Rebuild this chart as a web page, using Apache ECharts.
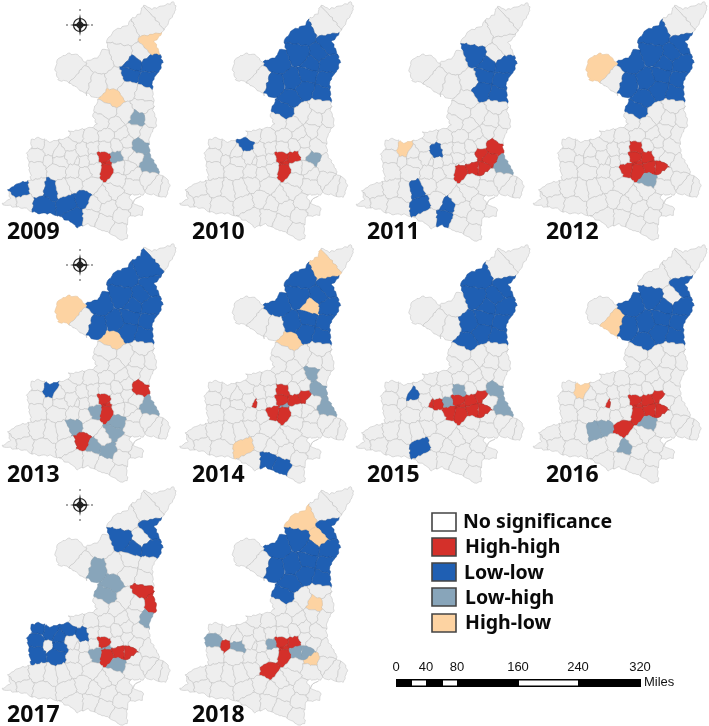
<!DOCTYPE html>
<html><head><meta charset="utf-8">
<script src="https://cdn.jsdelivr.net/npm/echarts@6/dist/echarts.min.js"></script>
<style>html,body{margin:0;padding:0;background:#fff}#c{width:709px;height:726px}</style>
</head><body><div id="c"></div>
<script>
// ---------- values: cluster membership per year ----------
const years = ['2009','2010','2011','2012','2013','2014','2015','2016','2017','2018'];
const legendLabels = ['No significance','High-high','Low-low','Low-high','High-low'];
const scaleLabels = ['0','40','80','160','240','320'];
const highHigh = {
 2009:['X0','X1','X2'], 2010:['X0','X1','X2','X3'], 2011:['X2','X4','X6','Tt','U','P'],
 2012:['Y1','X0','X1','X2','X3','X4','X5','X6'], 2013:['P','X0','X1','X2','Sr'],
 2014:['Y1','X1','X3','Tt','X2','X5','Xt'], 2015:['Xt','Xv','X0','X1','X2','X3','X4','X5','X6','Tt'],
 2016:['Xt','X0','X1','X2','X3','X4','X6','Tt','Rz'], 2017:['F','G','X1','X2','X4','X6'],
 2018:['X0','X1','X2','X3','Rz','a6']};
const lowLow = {
 2009:['N1','N2','N3','N4','Sa','d1','d2','d4','Sr','d6'],
 2010:['T3','A','A2','B','C','W3','N1','N2','N3','N4','M1','M2','M3','D','E','a3'],
 2011:['B','N1','N2','N3','N4','M2','M3','Sf','d4','Sg','e2','a4'],
 2012:['T3','A','A2','B','C','W3','N1','N2','N3','N4','M1','M2','M3','D','E'],
 2013:['T2','T3','A','A2','B','C','W3','N1','N2','N3','N4','M1','M2','M3','a2'],
 2014:['T3','A','A2','B','C','N2','N3','N4','M1','M2','M3','e2','e3'],
 2015:['T3','A','A2','B','N1','N2','N3','N4','M1','M2','M3','D','a7','d4'],
 2016:['A','B','C','W3','N1','N2','N3','N4','M1','M2','M3','D'],
 2017:['A','B','N1','N2','a1','a2','a3','a5','a7','a8','b1','b2','a4'],
 2018:['A','B','C','W3','N1','N2','N3','N4','M1','M2','M3','D','E']};
const lowHigh = {
 2009:['X3','P','R','H'], 2010:['U'], 2011:['R'], 2012:['Lan'],
 2013:['X5','R','Lan','Sb','Sg','Sc','Sd'], 2014:['X0','Q','P','R'], 2015:['Xw','Y1','P','R'],
 2016:['Lan','Sf','Sb','Sg'], 2017:['W3','D','E','L','X0','X5','Lan'], 2018:['Xw','X4','X6','a5','a8']};
const highLow = {
 2009:['A','D'], 2010:[], 2011:['a2'], 2012:['W1'], 2013:['W1','D'], 2014:['T2','N1','D','d4'],
 2015:[], 2016:['a2','W2'], 2017:[], 2018:['T3','A2','H','Hq']};

// ---------- base map geometry (map units) ----------
const outline = [[430,15],[458,27],[495,15],[522,5],[528,30],[508,62],[497,85],[480,105],[463,125],[482,165],[489,188],[478,212],[458,240],[457,270],[461,300],[460,330],[470,365],[465,385],[449,408],[447,438],[452,470],[475,508],[478,523],[500,535],[510,560],[497,590],[470,592],[430,585],[395,583],[388,590],[402,610],[432,625],[425,645],[385,650],[380,680],[382,715],[360,722],[340,705],[300,688],[262,672],[232,682],[205,662],[185,652],[150,640],[110,640],[75,625],[40,620],[5,612],[30,595],[25,570],[55,550],[95,540],[88,510],[85,480],[80,460],[95,440],[92,420],[115,412],[150,425],[200,415],[215,402],[205,395],[240,390],[280,380],[290,370],[278,345],[285,320],[297,296],[280,290],[250,275],[225,260],[205,245],[175,240],[165,205],[175,175],[205,160],[235,165],[255,185],[295,170],[310,145],[325,150],[320,120],[345,90],[385,75],[390,60],[420,40]];
const sites = [
 ['T1',485,35],['T2',440,75],['T3',378,105],['A',450,135],['A2',424,160],['B',368,165],['C',304,190],
 ['W1',214,205],['W2',250,238],['W3',292,250],['N1',400,192],['N2',450,192],['N3',390,224],['N4',445,240],
 ['M1',345,238],['M2',385,268],['M3',430,282],['D',340,298],['E',325,332],['F',425,318],['G',455,355],
 ['H',412,355],['I',375,340],['J',345,375],['K',305,370],['Q',405,395],['L',435,403],['O',365,405],['O2',320,405],
 ['P',415,437],['R',445,497],['U',402,475],['Hq',405,525],
 ['X0',318,486,-300],['X1',312,468],['X2',320,512],['X3',352,472],['X4',358,500],['X5',285,505],['X6',388,500],
 ['Xw',278,478],['Xv',252,483],['Xt',236,482,-220],['Y1',316,445],['Tt',380,460],['Lan',350,540],['Rz',272,555],
 ['n1',230,405],['n2',270,410],['n4',352,437],['n5',275,445],['n6',378,425],
 ['a1',110,430],['a2',155,442],['a3',205,436],['a4',250,452],['a5',105,462],['a6',150,480,-500],['a7',178,455],['a8',182,486],['a9',212,470],
 ['b1',105,510],['b2',175,510],['b3',222,515],['b4',252,520],
 ['Sa',60,572],['b5',115,565],['c1',30,608],['c2',70,606],['d1',150,572],['d2',130,612],['d4',205,610],['Sf',190,565],['Sb',222,552],
 ['Sr',250,598],['d6',225,650],['Sg',282,612],['e2',272,650],['e3',312,668],['Sc',325,625],['Sd',340,572],['g1',310,590],
 ['i1',400,555],['i2',470,560],['i3',440,535],['i4',495,565],['j1',375,610],['j2',365,645],['f2',412,630],['k1',360,695]
];
// empty spots outside the land: they bound cells but are not drawn
const emptySpots = [[230,325],[460,610],[250,100]].map(p=>['_',p[0],p[1]]);
const warp = (x,y)=>[
 x + 1.8*Math.sin(0.31*y+0.17*x) + 1.0*Math.sin(0.73*y-0.41*x+1.3),
 y + 1.8*Math.sin(0.29*x-0.19*y+0.7) + 1.0*Math.sin(0.67*x+0.47*y+2.1)];

function clip(poly, a, b, c){ // keep a*x+b*y<=c
  const out=[];
  for(let i=0;i<poly.length;i++){
    const p=poly[i], q=poly[(i+1)%poly.length];
    const fp=a*p[0]+b*p[1]-c, fq=a*q[0]+b*q[1]-c;
    if(fp<=0) out.push(p);
    if((fp<0&&fq>0)||(fp>0&&fq<0)){
      const t=fp/(fp-fq);
      out.push([p[0]+t*(q[0]-p[0]),p[1]+t*(q[1]-p[1])]);
    }
  }
  return out;
}
function refine(poly){
  const out=[];
  for(let i=0;i<poly.length;i++){
    const p=poly[i], q=poly[(i+1)%poly.length];
    const n=Math.max(1,Math.round(Math.hypot(q[0]-p[0],q[1]-p[1])/5));
    for(let k=0;k<n;k++){
      out.push(warp(p[0]+(q[0]-p[0])*k/n,p[1]+(q[1]-p[1])*k/n));
    }
  }
  return out;
}
let minX=1e9,minY=1e9,maxX=-1e9,maxY=-1e9;
const allSites = sites.concat(emptySpots);
const features = sites.map(si=>{
  let poly=outline;
  const wi=si[3]||0;
  for(const sj of allSites){
    if(sj===si) continue;
    const wj=sj[3]||0;
    const a=2*(sj[1]-si[1]), b=2*(sj[2]-si[2]);
    const c=(sj[1]*sj[1]+sj[2]*sj[2]-wj)-(si[1]*si[1]+si[2]*si[2]-wi);
    poly=clip(poly,a,b,c);
    if(!poly.length) break;
  }
  const ring=refine(poly).map(p=>{
    minX=Math.min(minX,p[0]);maxX=Math.max(maxX,p[0]);
    minY=Math.min(minY,p[1]);maxY=Math.max(maxY,p[1]);
    return [p[0],-p[1]];
  });
  if(ring.length) ring.push(ring[0].slice());
  return {type:'Feature',properties:{name:si[0]},geometry:{type:'Polygon',coordinates:[ring]}};
}).filter(f=>f.geometry.coordinates[0].length>3);
years.forEach(y=>echarts.registerMap('region'+y,{type:'FeatureCollection',features:JSON.parse(JSON.stringify(features))}));

// ---------- styling and layout ----------
const fills = {0:'#eeeeee',1:'#d4302a',2:'#1f5fb3',3:'#88a5ba',4:'#fdd3a2'};
const lines = {0:'#bcbcbc',1:'#a52a24',2:'#1a4e94',3:'#7f98ab',4:'#e0bf97'};
const panelOrigin = {2009:[0,0],2010:[177.5,0],2011:[354,1],2012:[531,0],2013:[0,242],2014:[177.5,243],2015:[354,243],2016:[531,243],2017:[0,485],2018:[177.5,485]};
const labelPos = {2009:[7,232],2010:[192,232],2011:[367,232],2012:[546,232],2013:[7,475],2014:[192,475],2015:[367,475],2016:[546,475],2017:[7,715],2018:[192,715]};
const comps = [[80,25],[80,265],[80,505]];
const K=3;

function codeOf(y,n){
  if(highHigh[y].includes(n)) return 1;
  if(lowLow[y].includes(n)) return 2;
  if(lowHigh[y].includes(n)) return 3;
  if(highLow[y].includes(n)) return 4;
  return 0;
}
const series = years.map(y=>({
  type:'map',map:'region'+y,roam:false,silent:true,aspectScale:1,name:y,
  left:panelOrigin[y][0]+minX/K, top:panelOrigin[y][1]+minY/K,
  width:(maxX-minX)/K, height:(maxY-minY)/K,
  label:{show:false}, emphasis:{disabled:true}, select:{disabled:true},
  itemStyle:{areaColor:fills[0],borderColor:lines[0],borderWidth:0.5},
  data:sites.map(s=>{const c=codeOf(y,s[0]);return {name:s[0],value:c,itemStyle:{areaColor:fills[c],borderColor:lines[c],borderWidth:0.5}};})
}));

const graphic=[];
years.forEach(y=>graphic.push({type:'text',x:labelPos[y][0],y:labelPos[y][1],
  style:{text:y,font:'bold 23px "Noto Sans"',fill:'#0a0a0a',textVerticalAlign:'middle'}}));
// legend
const legY=[513,538,563,588,614], legText=[522,547,573,598,623], legX=[463,465,464,465,465], legFill=['#ffffff',fills[1],fills[2],fills[3],fills[4]];
legendLabels.forEach((t,i)=>{
  graphic.push({type:'rect',shape:{x:432,y:legY[i],width:24,height:18},style:{fill:legFill[i],stroke:'#444',lineWidth:1.6}});
  graphic.push({type:'text',x:legX[i],y:legText[i],style:{text:t,font:'bold 19.5px "Noto Sans"',fill:'#0a0a0a',textVerticalAlign:'middle'}});
});
// scale bar
const scaleX=[396,426,457,518,578,640];
scaleLabels.forEach((t,i)=>graphic.push({type:'text',x:scaleX[i],y:667,style:{text:t,font:'13px "Liberation Sans"',fill:'#111',textAlign:'center',textVerticalAlign:'middle'}}));
graphic.push({type:'rect',shape:{x:396,y:679,width:245,height:8},style:{fill:'#000'}});
[[412,14],[443,14],[519,59]].forEach(s=>graphic.push({type:'rect',shape:{x:s[0],y:680.5,width:s[1],height:5},style:{fill:'#fff'}}));
graphic.push({type:'text',x:644,y:682,style:{text:'Miles',font:'13px "Liberation Sans"',fill:'#111',textVerticalAlign:'middle'}});
// compass
comps.forEach(c=>{
  const [x,y]=c;
  graphic.push({type:'circle',shape:{cx:x,cy:y,r:6.5},style:{fill:'none',stroke:'#222',lineWidth:1.2}});
  graphic.push({type:'circle',shape:{cx:x,cy:y,r:3},style:{fill:'#999',stroke:'#222',lineWidth:1}});
  graphic.push({type:'polygon',shape:{points:[[x,y-11],[x+2,y],[x,y+11],[x-2,y]]},style:{fill:'#222'}});
  graphic.push({type:'polygon',shape:{points:[[x-10,y],[x,y-2],[x+10,y],[x,y+2]]},style:{fill:'#222'}});
  [[x,y-15],[x,y+15],[x-13,y],[x+12,y]].forEach(p=>graphic.push({type:'circle',shape:{cx:p[0],cy:p[1],r:1},style:{fill:'#888'}}));
});

const chart=echarts.init(document.getElementById('c'),null,{renderer:'canvas'});
chart.setOption({animation:false,backgroundColor:'#fff',series,graphic});
</script></body></html>
